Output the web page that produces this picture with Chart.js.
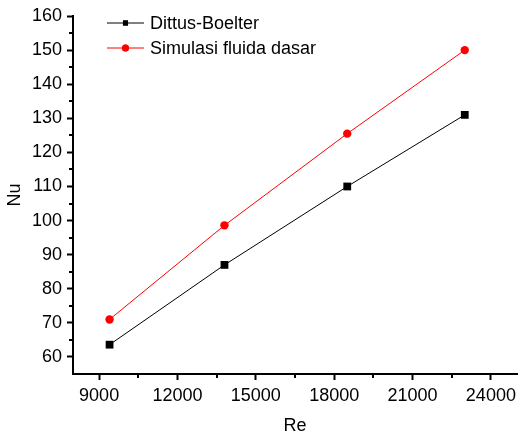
<!DOCTYPE html>
<html lang="en">
<head>
<meta charset="UTF-8" />
<title>Nu vs Re</title>
<script src="https://cdn.jsdelivr.net/npm/chart.js@4.4.0/dist/chart.umd.min.js"></script>
<style>
  html, body { margin: 0; padding: 0; background: #fff; }
  #wrap { width: 518px; height: 439px; }
</style>
</head>
<body>
<div id="wrap"><canvas id="nuChart" width="518" height="439"></canvas></div>
<script>
// data
const reValues = [9400, 13800, 18500, 23000];
const nuDittus = [63.6, 87, 110, 131];
const nuSimulasi = [71, 98.6, 125.5, 150];
const seriesNames = ['Dittus-Boelter', 'Simulasi fluida dasar'];

// axis ticks
const xTicks = [9000, 12000, 15000, 18000, 21000, 24000];
const xMinorTicks = [10500, 13500, 16500, 19500, 22500];
const yTicks = [60, 70, 80, 90, 100, 110, 120, 130, 140, 150, 160];
const yMinorTicks = [65, 75, 85, 95, 105, 115, 125, 135, 145, 155];

const FONT = { family: "'Liberation Sans', Arial, sans-serif", size: 18 };

// short minor ticks, drawn through the scales
const minorTicks = {
    id: 'minorTicks',
    afterDraw(chart) {
        const { ctx, scales: { x, y } } = chart;
        ctx.save();
        ctx.strokeStyle = '#000';
        ctx.lineWidth = 2;
        ctx.beginPath();
        xMinorTicks.forEach(v => {
            const px = Math.round(x.getPixelForValue(v));
            ctx.moveTo(px, x.top);
            ctx.lineTo(px, x.top + 4);
        });
        yMinorTicks.forEach(v => {
            const py = Math.round(y.getPixelForValue(v));
            ctx.moveTo(y.right, py);
            ctx.lineTo(y.right - 4, py);
        });
        ctx.stroke();
        ctx.restore();
    }
};

// legend sitting inside the plot, top left
const innerLegend = {
    id: 'innerLegend',
    afterDraw(chart) {
        const ctx = chart.ctx;
        ctx.save();
        chart.data.datasets.forEach((ds, i) => {
            const ly = 23 + i * 25;
            ctx.strokeStyle = ds.borderColor;
            ctx.lineWidth = 1;
            ctx.beginPath();
            ctx.moveTo(107, ly);
            ctx.lineTo(144, ly);
            ctx.stroke();
            ctx.fillStyle = ds.pointBackgroundColor;
            Chart.helpers.drawPoint(ctx, { pointStyle: ds.pointStyle, rotation: 0, radius: ds.pointStyle === 'rect' ? 3.6 : 3.5, borderWidth: 0 }, 125.5, ly);
            ctx.fill();
            ctx.fillStyle = '#000';
            ctx.font = FONT.size + 'px ' + FONT.family;
            ctx.textBaseline = 'middle';
            ctx.fillText(ds.label, 150, ly + 1);
        });
        ctx.restore();
    }
};

const plainNumber = v => String(v);

const ctx = document.getElementById('nuChart').getContext('2d');
const nuChart = new Chart(ctx, {
    type: 'line',
    data: {
        labels: reValues,
        datasets: [
            {
                label: seriesNames[0],
                data: reValues.map((r, i) => ({ x: r, y: nuDittus[i] })),
                borderColor: '#000',
                backgroundColor: '#000',
                pointBackgroundColor: '#000',
                pointBorderColor: '#000',
                pointStyle: 'rect',
                pointRadius: 5.5,
                pointBorderWidth: 0,
                borderWidth: 1,
                fill: false,
                tension: 0
            },
            {
                label: seriesNames[1],
                data: reValues.map((r, i) => ({ x: r, y: nuSimulasi[i] })),
                borderColor: '#ff0000',
                backgroundColor: '#ff0000',
                pointBackgroundColor: '#ff0000',
                pointBorderColor: '#ff0000',
                pointStyle: 'circle',
                pointRadius: 4.2,
                pointBorderWidth: 0,
                borderWidth: 1,
                fill: false,
                tension: 0
            }
        ]
    },
    options: {
        responsive: false,
        animation: false,
        devicePixelRatio: 1,
        layout: { autoPadding: false, padding: { top: 16, right: 1, left: 0, bottom: 0 } },
        plugins: {
            legend: { display: false },
            tooltip: { enabled: false }
        },
        scales: {
            x: {
                type: 'linear',
                min: 8000,
                max: 25000,
                afterBuildTicks: s => { s.ticks = xTicks.map(v => ({ value: v })); },
                afterFit: s => { s.height = 65; s.paddingLeft = 0; s.paddingRight = 0; },
                ticks: { font: FONT, color: '#000', padding: 5, maxRotation: 0, autoSkip: false, callback: plainNumber },
                grid: { drawOnChartArea: false, tickLength: 6, tickWidth: 2, tickColor: '#000' },
                border: { color: '#000', width: 2 },
                title: { display: true, text: 'Re', font: FONT, color: '#000', padding: { top: 4, bottom: 2 } }
            },
            y: {
                min: 55,
                max: 160,
                afterBuildTicks: s => { s.ticks = yTicks.map(v => ({ value: v })); },
                afterFit: s => { s.width = 73; s.paddingTop = 0; s.paddingBottom = 0; },
                ticks: { font: FONT, color: '#000', padding: 5, autoSkip: false, callback: plainNumber },
                grid: { drawOnChartArea: false, tickLength: 6, tickWidth: 2, tickColor: '#000' },
                border: { color: '#000', width: 2 },
                title: { display: true, text: 'Nu', font: FONT, color: '#000', padding: { top: 4, bottom: 0 } }
            }
        }
    },
    plugins: [minorTicks, innerLegend]
});
</script>
</body>
</html>
